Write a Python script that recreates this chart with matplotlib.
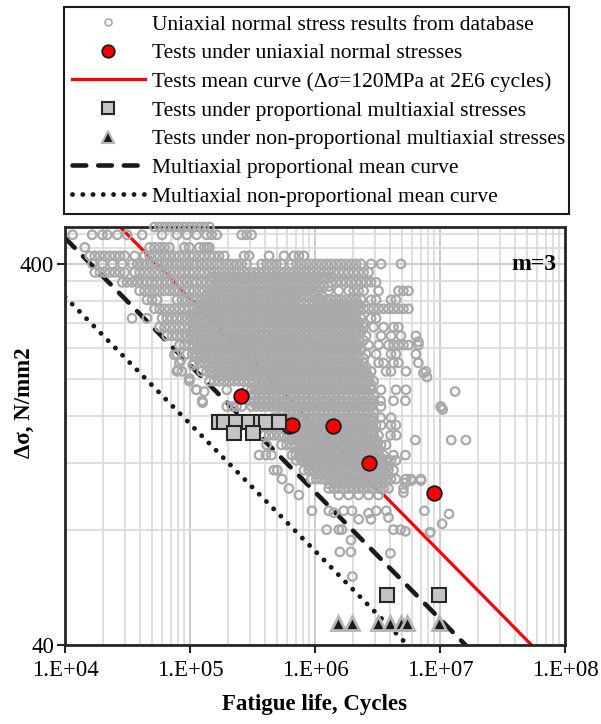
import numpy as np
import matplotlib.pyplot as plt
from matplotlib.lines import Line2D
from matplotlib.ticker import FixedLocator, FixedFormatter, LogLocator, NullFormatter

plt.rcParams['font.family'] = ['Liberation Serif', 'DejaVu Serif']

# uniaxial normal stress database: stress levels (N/mm2) and cycles (thousands) per level
db_stress = [500, 477, 442, 420, 400, 380, 358, 340, 322, 305, 288, 273, 259, 245, 232, 220,
             209, 197, 187, 175, 169, 158, 151, 142, 134, 126, 122, 115, 109, 103, 99,
             369, 349, 331, 313, 296, 280, 266, 252, 238, 226, 214, 203, 192, 181, 172, 163,
             155, 146, 138, 130, 124, 118, 112, 106]
db_kcycles = [
    [52, 57, 62.5, 68.5, 75, 82, 90, 99, 108, 119, 130, 143],
    [11.5, 16.5, 19.9, 21.8, 26.2, 31.4, 41.4, 59.7, 78.6, 94.4, 113, 136, 149, 164, 259, 284, 311],
    [14.4, 47.5, 52, 57, 62.5, 68.5, 90, 99, 119, 130, 137, 143],
    [15.8, 17.3, 19, 20.8, 22.8, 25, 27.4, 30, 36.1, 43.3, 47.5, 52, 57, 62.5, 68.5, 75, 82, 90, 99, 108,
     119, 130, 143, 156, 171, 188, 271, 297, 429, 565, 678, 743, 815],
    [16.6, 19.9, 23.9, 28.7, 34.4, 37.8, 41.4, 45.3, 49.7, 54.5, 59.7, 65.4, 71.7, 78.6, 86.2, 94.4, 104,
     113, 124, 136, 149, 164, 179, 197, 216, 236, 259, 284, 374, 410, 449, 492, 539, 648, 710, 778, 853,
     935, 1025, 1123, 1231, 1349, 1479, 1621, 1777, 1948, 2135, 2340, 2811, 3377, 4874],
    [17.3, 19, 20.8, 22.8, 25, 27.4, 30, 36.1, 39.5, 43.3, 47.5, 52, 57, 62.5, 68.5, 75.1, 82.3, 90.2,
     98.9, 108, 119, 130, 143, 156, 171, 188, 206, 226, 247, 271, 297, 326, 357, 391, 429, 470, 515, 565,
     619, 678, 743, 815, 893, 979, 1073, 1176, 1289, 1413, 1548, 1697, 1860, 2039, 2234, 2449, 2684],
    [28.7, 31.4, 34.4, 37.8, 41.4, 45.3, 49.7, 54.5, 59.7, 65.4, 71.7, 78.6, 86.2, 94.4, 104, 113, 124,
     136, 149, 164, 179, 197, 216, 236, 259, 284, 311, 341, 374, 410, 449, 492, 539, 591, 648, 710, 778,
     853, 935, 1025, 1349, 1479, 1621, 1777, 1948, 2135, 2340, 2565, 2811, 3081],
    [39.5, 43.3, 47.5, 52, 57, 62.5, 68.5, 75.1, 82.3, 90.2, 98.9, 108, 119, 130, 143, 156, 171, 188, 206,
     226, 247, 271, 297, 326, 357, 391, 429, 470, 515, 565, 619, 678, 743, 815, 893, 1073, 1289, 1548,
     1860, 2039, 2234, 2449, 3224, 4652, 5099, 5589],
    [45.3, 49.7, 54.5, 78.6, 86.2, 94.4, 104, 113, 124, 136, 149, 164, 179, 197, 216, 236, 259, 284, 311,
     341, 374, 410, 449, 492, 539, 591, 648, 710, 1025, 1123, 1231, 1349, 1479, 1621, 1777, 1948, 2135,
     2340, 2811, 3081, 4057, 4447],
    [52, 57, 62.5, 68.5, 75.1, 82.3, 90.2, 98.9, 108, 119, 130, 143, 156, 171, 188, 206, 226, 247, 271,
     297, 326, 357, 391, 429, 470, 515, 565, 619, 678, 743, 815, 893, 979, 1073, 1176, 1289, 1413, 1548,
     1697, 1860, 2039, 2234, 2449, 2684, 2942, 3224, 3534, 3873, 4245, 4652, 5099, 5589],
    [34.4, 45.3, 59.7, 65.4, 71.7, 78.6, 86.2, 94.4, 104, 113, 124, 136, 149, 164, 179, 197, 216, 236,
     259, 284, 311, 341, 374, 410, 449, 492, 539, 591, 648, 710, 778, 853, 935, 1025, 1123, 1231, 1349,
     1479, 1621, 1777, 1948, 2135, 2340, 2811, 3081],
    [57, 62.5, 68.5, 75.1, 82.3, 90.2, 98.9, 108, 119, 130, 143, 156, 171, 188, 206, 226, 247, 271, 297,
     326, 357, 391, 429, 470, 515, 565, 619, 678, 743, 815, 893, 979, 1073, 1176, 1289, 1413, 1548, 1697,
     1860, 2039, 2234, 2449, 2942, 3534, 4245, 4652],
    [65.4, 71.7, 78.6, 86.2, 94.4, 104, 113, 124, 136, 149, 164, 179, 197, 216, 236, 259, 284, 311, 341,
     374, 410, 449, 492, 539, 591, 648, 710, 778, 853, 935, 1025, 1123, 1231, 1349, 1479, 1621, 1777,
     1948, 2135, 2565, 3377, 4057, 4874, 6418],
    [82.3, 90.2, 98.9, 108, 119, 130, 143, 156, 171, 188, 206, 226, 247, 271, 297, 326, 357, 391, 429,
     470, 515, 565, 619, 678, 743, 815, 893, 979, 1073, 1176, 1289, 1413, 1548, 1697, 1860, 2039, 2234,
     2684, 3224, 3873, 4245, 4652, 5099, 5589, 6713],
    [78.6, 94.4, 104, 113, 124, 136, 149, 164, 179, 197, 216, 236, 259, 284, 311, 341, 374, 410, 449, 492,
     539, 591, 648, 710, 778, 853, 935, 1025, 1123, 1231, 1349, 1479, 1621, 1777, 1948, 2135, 2565, 3081,
     4057, 4447, 6418],
    [82.3, 108, 119, 130, 143, 156, 171, 188, 206, 226, 247, 271, 297, 326, 357, 391, 429, 470, 515, 565,
     619, 678, 743, 815, 893, 979, 1073, 1176, 1289, 1413, 1548, 1697, 1860, 2039, 2234, 2449, 3224,
     3534, 4245, 4652, 6713],
    [78.6, 86.2, 124, 136, 149, 164, 179, 197, 216, 236, 259, 284, 311, 341, 374, 410, 449, 492, 539, 591,
     648, 710, 778, 853, 935, 1025, 1123, 1231, 1349, 1479, 1621, 1777, 1948, 2135, 2340, 2565, 2811,
     3701, 4057, 5342, 7710],
    [98.9, 143, 156, 171, 188, 206, 226, 247, 271, 297, 326, 357, 391, 429, 470, 515, 565, 619, 678, 743,
     815, 893, 979, 1073, 1176, 1289, 1413, 1548, 1697, 1860, 2039, 2234, 2449, 2684, 2942],
    [113, 197, 284, 311, 341, 374, 410, 449, 492, 539, 591, 648, 710, 778, 853, 935, 1025, 1123, 1231,
     1349, 1479, 1621, 1777, 1948, 2135, 2340, 2565, 2811, 3377, 4447, 5342],
    [125, 297, 326, 357, 391, 429, 470, 515, 565, 619, 678, 743, 815, 893, 979, 1073, 1176, 1289, 1413,
     1548, 1697, 1860, 2039, 2234, 2449, 2684, 2942, 3350, 4245, 5290],
    [197, 216, 236, 259, 311, 341, 374, 410, 449, 492, 539, 591, 648, 710, 778, 853, 935, 1025, 1123,
     1231, 1349, 1479, 1621, 1777, 1948, 2135, 2340, 2565, 2811, 3377, 10140],
    [470, 515, 565, 619, 678, 743, 815, 893, 979, 1073, 1176, 1289, 1413, 1548, 1697, 1860, 2039, 2234,
     2449, 2684, 2942, 3350, 4060],
    [591, 648, 710, 778, 853, 935, 1025, 1123, 1231, 1349, 1479, 1621, 1777, 1948, 2135, 2340, 2565,
     2811, 3081, 3377, 4057, 4447],
    [391, 429, 470, 515, 565, 619, 678, 743, 815, 893, 979, 1073, 1176, 1289, 1413, 1548, 1697, 1860,
     2039, 2234, 2449, 2684, 2942, 3224, 4020, 4480],
    [410, 539, 591, 648, 710, 778, 853, 935, 1025, 1123, 1231, 1349, 1479, 1621, 1777, 1948, 2135, 2340,
     2565, 2811, 3081, 3377, 3701],
    [357, 405, 449, 655, 700, 743, 815, 893, 979, 1073, 1176, 1289, 1413, 1548, 1697, 1860, 2039, 2234,
     2449, 2684, 2942, 3224, 3534, 4245, 5290],
    [710, 778, 853, 935, 1025, 1123, 1231, 1349, 1479, 1621, 1777, 1948, 2135, 2340, 2565, 2811, 3081,
     3377, 3701, 4057, 4447],
    [470, 500, 815, 893, 979, 1073, 1176, 1289, 1413, 1548, 1697, 1860, 2039, 2234, 2449, 2684, 2942,
     3224, 3534, 3873, 4245],
    [545, 935, 1025, 1123, 1231, 1349, 1479, 1621, 1777, 1948, 2135, 2340, 2565, 2811, 3081, 3377, 3701,
     4057, 4447, 5342, 5855, 7034],
    [619, 1289, 1413, 1548, 1697, 1860, 2039, 2234, 2449, 2684, 2942, 3224, 3534, 3873, 5099],
    [743, 1548, 1860, 2234, 2684, 3224],
    # in-between levels of the dense core
    [149, 164, 179, 197, 216, 236, 259, 284, 311, 341, 374, 410, 449, 492, 539, 591, 648, 710, 778, 853,
     935, 1025, 1123, 1231, 1349],
    [156, 171, 188, 206, 226, 247, 271, 297, 326, 357, 391, 429, 470, 515, 565, 619, 678, 743, 815, 893,
     979, 1073, 1176, 1289],
    [136, 149, 164, 179, 197, 216, 236, 259, 284, 311, 341, 374, 410, 449, 492, 539, 591, 648, 710, 778,
     853, 935, 1025, 1123],
    [119, 130, 143, 156, 171, 188, 206, 226, 247, 271, 297, 326, 357, 391, 429, 470, 515, 565, 619, 678,
     743, 815, 893, 979, 1073, 1176, 1289, 1413, 1548, 1697, 1860, 2039, 2234],
    [104, 113, 124, 136, 149, 164, 179, 197, 216, 236, 259, 284, 311, 341, 374, 410, 449, 492, 539, 591,
     648, 710, 778, 853, 935, 1025, 1123, 1231, 1349, 1479, 1621, 1777, 1948, 2135],
    [108, 119, 130, 143, 156, 171, 188, 206, 226, 247, 271, 297, 326, 357, 391, 429, 470, 515, 565, 619,
     678, 743, 815, 893, 979, 1073, 1176, 1289, 1413, 1548, 1697, 1860, 2039, 2234, 2449],
    [104, 113, 124, 136, 149, 164, 179, 197, 216, 236, 259, 284, 311, 341, 374, 410, 449, 492, 539, 591,
     648, 710, 778, 853, 935, 1025, 1123, 1231, 1349, 1479, 1621, 1777, 1948, 2135, 2340],
    [108, 119, 130, 143, 156, 171, 188, 206, 226, 247, 271, 297, 326, 357, 391, 429, 470, 515, 565, 619,
     678, 743, 815, 893, 979, 1073, 1176, 1289, 1413, 1548, 1697, 1860, 2039, 2234, 2449],
    [113, 124, 136, 149, 164, 179, 197, 216, 236, 259, 284, 311, 341, 374, 410, 449, 492, 539, 591, 648,
     710, 778, 853, 935, 1025, 1123, 1231, 1349, 1479, 1621, 1777, 1948, 2135, 2340],
    [130, 143, 156, 171, 188, 206, 226, 247, 271, 297, 326, 357, 391, 429, 470, 515, 565, 619, 678, 743,
     815, 893, 979, 1073, 1176, 1289, 1413, 1548, 1697, 1860, 2039, 2234, 2449],
    [149, 164, 179, 197, 216, 236, 259, 284, 311, 341, 374, 410, 449, 492, 539, 591, 648, 710, 778, 853,
     935, 1025, 1123, 1231, 1349, 1479, 1621, 1777, 1948, 2135, 2340, 2565],
    [171, 188, 206, 226, 247, 271, 297, 326, 357, 391, 429, 470, 515, 565, 619, 678, 743, 815, 893, 979,
     1073, 1176, 1289, 1413, 1548, 1697, 1860, 2039, 2234, 2449, 2684],
    [341, 374, 410, 449, 492, 539, 591, 648, 710, 778, 853, 935, 1025, 1123, 1231, 1349, 1479, 1621, 1777,
     1948, 2135, 2340, 2565, 2811],
    [326, 357, 391, 429, 470, 515, 565, 619, 678, 743, 815, 893, 979, 1073, 1176, 1289, 1413, 1548, 1697,
     1860, 2039, 2234, 2449, 2684, 2942],
    [341, 374, 410, 449, 492, 539, 591, 648, 710, 778, 853, 935, 1025, 1123, 1231, 1349, 1479, 1621, 1777,
     1948, 2135, 2340, 2565, 2811],
    [565, 619, 678, 743, 815, 893, 979, 1073, 1176, 1289, 1413, 1548, 1697, 1860, 2039, 2234, 2449, 2684,
     2942],
    [648, 710, 778, 853, 935, 1025, 1123, 1231, 1349, 1479, 1621, 1777, 1948, 2135, 2340, 2565, 2811],
    [619, 678, 743, 815, 893, 979, 1073, 1176, 1289, 1413, 1548, 1697, 1860, 2039, 2234, 2449, 2684, 2942],
    [648, 710, 778, 853, 935, 1025, 1123, 1231, 1349, 1479, 1621, 1777, 1948, 2135, 2340, 2565, 2811, 3081],
    [743, 815, 893, 979, 1073, 1176, 1289, 1413, 1548, 1697, 1860, 2039, 2234, 2449, 2684, 2942, 3224],
    [778, 853, 935, 1025, 1123, 1231, 1349, 1479, 1621, 1777, 1948, 2135, 2340, 2565, 2811, 3081, 3377],
    [893, 979, 1073, 1176, 1289, 1413, 1548, 1697, 1860, 2039, 2234, 2449, 2684, 2942, 3224, 3534, 3873],
    [1025, 1123, 1231, 1349, 1479, 1621, 1777, 1948, 2135, 2340, 2565, 2811, 3081, 3377, 3701],
    [1289, 1413, 1548, 1697, 1860, 2039, 2234, 2449, 2684, 2942, 3224, 3534],
]
# scattered database points outside the rows
extra_stress = [90, 90, 89, 90, 90, 88.7, 90, 90, 85.5, 85.5, 86.4, 80.3, 80.3, 80.3, 80.3, 80.3, 79.5,
                75.4, 70.2, 70.2, 60.5, 69.6, 100.5, 106.5, 108, 108, 90, 88.3, 83.2, 78.8, 79.1,
                138, 138, 138, 231, 224, 211, 200, 217, 187, 185, 173, 168, 185, 166, 207, 202, 250]
extra_kcycles = [945, 1289, 1413, 1697, 1975, 2684, 3090, 3720, 2234, 2800, 3873, 1240, 1548, 1640,
                 4245, 4840, 5290, 1940, 1580, 1940, 1990, 4010, 5099, 5290, 5900, 7040, 7500, 11800,
                 10400, 8300, 8360, 6350, 12300, 16100, 75, 85, 80, 99, 105, 112, 130, 126, 10200,
                 13200, 10500, 7358, 7870, 6713]

# tests under uniaxial normal stresses
test_cycles = [2.55e5, 6.2e5, 6.6e5, 1.39e6, 2.7e6, 9.0e6]
test_stress = [180, 150, 151, 150, 120, 100]
# tests under proportional multiaxial stresses
prop_cycles = [1.71e5, 1.88e5, 2.33e5, 2.97e5, 3.68e5, 4.03e5, 5.15e5, 2.25e5, 3.2e5, 3.75e6, 9.9e6]
prop_stress = [154, 154, 154, 154, 154, 154, 154, 144, 144, 54, 54]
# tests under non-proportional multiaxial stresses
nonprop_cycles = [1.53e6, 1.97e6, 3.2e6, 4.0e6, 4.9e6, 5.4e6, 9.8e6]
nonprop_stress = [45.8, 45.8, 45.8, 45.8, 45.8, 45.8, 45.8]

# mean curves (end points)
mean_cycles = [2.76e4, 5.4e7]
mean_stress = [500, 40]
prop_curve_cycles = [1e4, 1.6e7]
prop_curve_stress = [468, 40]
nonprop_curve_cycles = [1e4, 5.5e6]
nonprop_curve_stress = [328, 40]

db_x = [k * 1e3 for row in db_kcycles for k in row] + [k * 1e3 for k in extra_kcycles]
db_y = [s for s, row in zip(db_stress, db_kcycles) for _ in row] + extra_stress

gray = '#a9a9ac'
fig = plt.figure(figsize=(6.01, 7.24), dpi=100)
ax = fig.add_axes([65 / 601, 1 - 645 / 724, 500 / 601, 418 / 724])
ax.set_xscale('log')
ax.set_yscale('log')

l_mean, = ax.plot(mean_cycles, mean_stress, color='#ff0000', lw=2.3, zorder=2)
l_prop, = ax.plot(prop_curve_cycles, prop_curve_stress, color='#1a1a1a', lw=3.3,
                  dashes=(3.0, 2.6), dash_capstyle='round', zorder=2)
l_nonp, = ax.plot(nonprop_curve_cycles, nonprop_curve_stress, color='#1a1a1a', lw=3.5,
                  dashes=(0.01, 2.1), dash_capstyle='round', zorder=2)

ax.scatter(db_x, db_y, s=38, facecolors='none', edgecolors=gray, linewidths=1.6,
           zorder=3, clip_on=False)
ax.plot(test_cycles, test_stress, 'o', ms=10.5, mfc='#ff0000', mec='#1a1a1a', mew=1.3, zorder=4)
ax.plot(prop_cycles, prop_stress, 's', ms=10, mfc='#c4c4c6', mec='#262626', mew=1.5, zorder=5)
ax.plot(nonprop_cycles, nonprop_stress, '^', ms=10, mfc='#1a1a1a', mec='#b5b5b8', mew=2.0, zorder=5)

ax.set_xlim(1e4, 1e8)
ax.set_ylim(40, 500)

ax.xaxis.set_major_locator(FixedLocator([1e4, 1e5, 1e6, 1e7, 1e8]))
ax.xaxis.set_major_formatter(FixedFormatter(['1.E+04', '1.E+05', '1.E+06', '1.E+07', '1.E+08']))
ax.xaxis.set_minor_locator(LogLocator(base=10, subs=np.arange(2, 10)))
ax.xaxis.set_minor_formatter(NullFormatter())
ax.yaxis.set_major_locator(FixedLocator([40, 400]))
ax.yaxis.set_major_formatter(FixedFormatter(['40', '400']))
ax.yaxis.set_minor_locator(FixedLocator([80, 120, 160, 200, 240, 280, 320, 360, 440, 480]))
ax.yaxis.set_minor_formatter(NullFormatter())

ax.tick_params(which='major', direction='out', length=6, width=1.5, labelsize=16.5,
               color='#262626')
ax.tick_params(axis='x', which='major', pad=5)
ax.tick_params(axis='y', which='major', pad=2)
ax.tick_params(which='minor', length=0)
ax.grid(which='minor', color='#dcdcdc', lw=1.3)
ax.grid(which='major', color='#c8c8c8', lw=1.3)
ax.set_axisbelow(True)
for sp in ax.spines.values():
    sp.set_linewidth(2)
    sp.set_color('#262626')

ax.set_xlabel('Fatigue life, Cycles', fontsize=16.5, fontweight='bold', labelpad=9)
ax.set_ylabel('Δσ, N/mm2', fontsize=16.5, fontweight='bold')
ax.yaxis.set_label_coords(-0.06, 0.58)
ax.text(0.982, 0.91, 'm=3', transform=ax.transAxes, ha='right', va='center',
        fontsize=17, fontweight='bold')

h_db = Line2D([], [], marker='o', ls='none', mfc='none', mec=gray, ms=5, mew=1.2)
h_test = Line2D([], [], marker='o', ls='none', mfc='#ff0000', mec='#1a1a1a', ms=9, mew=1.3)
h_prop = Line2D([], [], marker='s', ls='none', mfc='#c4c4c6', mec='#262626', ms=8, mew=1.5)
h_nonp = Line2D([], [], marker='^', ls='none', mfc='#1a1a1a', mec='#b5b5b8', ms=8, mew=1.5)
handles = [h_db, h_test, l_mean, h_prop, h_nonp, l_prop, l_nonp]
labels = ['Uniaxial normal stress results from database',
          'Tests under uniaxial normal stresses',
          'Tests mean curve (Δσ=120MPa at 2E6 cycles)',
          'Tests under proportional multiaxial stresses',
          'Tests under non-proportional multiaxial stresses',
          'Multiaxial proportional mean curve',
          'Multiaxial non-proportional mean curve']
leg = fig.legend(handles, labels, loc='upper left',
                 bbox_to_anchor=(64 / 601, 1 - 7 / 724, 505 / 601, 0), mode='expand',
                 borderaxespad=0, fontsize=15.5, handlelength=3.4, handletextpad=0.35,
                 labelspacing=0.4, borderpad=0.35, fancybox=False, framealpha=1,
                 edgecolor='#1a1a1a')
leg.get_frame().set_linewidth(1.5)

plt.savefig('out.png', dpi=100)
